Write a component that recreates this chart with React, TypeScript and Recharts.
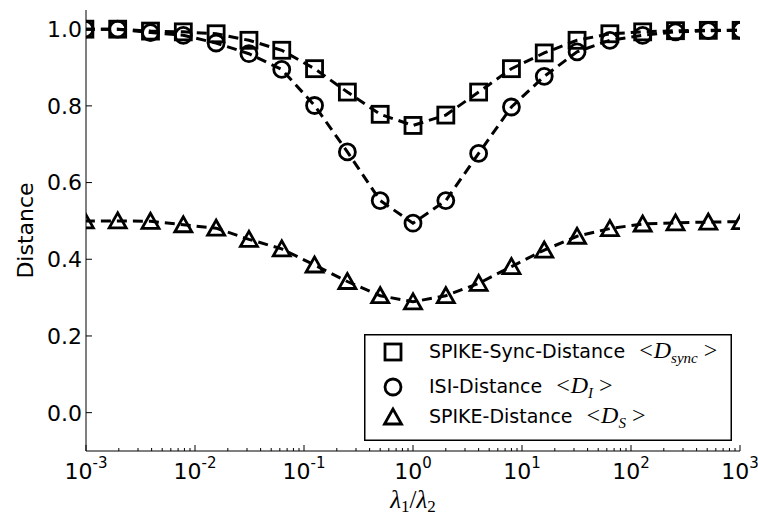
import React from "react";
import { LineChart, Line, XAxis, YAxis, Legend } from "recharts";

// lambda1 / lambda2 ratios (powers of two)
const ratios = [
  0.0009765625, 0.001953125, 0.00390625, 0.0078125, 0.015625, 0.03125, 0.0625,
  0.125, 0.25, 0.5, 1, 2, 4, 8, 16, 32, 64, 128, 256, 512, 1024,
];
const syncDistance = [
  1.0, 1.0, 0.995, 0.993, 0.988, 0.971, 0.945, 0.897, 0.836, 0.778, 0.749,
  0.776, 0.836, 0.897, 0.938, 0.971, 0.988, 0.993, 0.996, 0.997, 0.997,
];
const isiDistance = [
  1.0, 1.0, 0.991, 0.984, 0.964, 0.936, 0.895, 0.801, 0.68, 0.553, 0.494,
  0.553, 0.676, 0.797, 0.877, 0.941, 0.971, 0.984, 0.993, 0.996, 0.997,
];
const spikeDistance = [
  0.5, 0.5, 0.499, 0.49, 0.481, 0.452, 0.427, 0.385, 0.342, 0.305, 0.289,
  0.305, 0.337, 0.381, 0.424, 0.46, 0.48, 0.492, 0.495, 0.497, 0.498,
];

const majorX = [0.001, 0.01, 0.1, 1, 10, 100, 1000];
const majorExp = ["-3", "-2", "-1", "0", "1", "2", "3"];
const minorMantissa = [2, 3, 4, 5, 6, 7, 8, 9];
const yTicks = [0, 0.2, 0.4, 0.6, 0.8, 1.0];

const legendNames = ["SPIKE-Sync-Distance", "ISI-Distance", "SPIKE-Distance"];
const legendSubs = ["sync", "I", "S"];

const xTicks = [
  ...majorX,
  ...majorX.slice(0, -1).flatMap((d) => minorMantissa.map((m) => m * d)),
];

const data = ratios.map((r, i) => ({
  x: r,
  sync: syncDistance[i],
  isi: isiDistance[i],
  spike: spikeDistance[i],
}));

const FONT = "DejaVu Sans";
const MATH = "Liberation Serif";
const MARK_W = 2.8;

const Square = ({ cx, cy }: any) => (
  <rect x={cx - 8} y={cy - 8} width={16} height={16} fill="none" stroke="#000" strokeWidth={MARK_W} />
);
const Circle = ({ cx, cy }: any) => (
  <circle cx={cx} cy={cy} r={8} fill="none" stroke="#000" strokeWidth={MARK_W} />
);
const Triangle = ({ cx, cy }: any) => (
  <path
    d={`M${cx},${cy - 8} L${cx - 8.5},${cy + 7} L${cx + 8.5},${cy + 7} Z`}
    fill="none"
    stroke="#000"
    strokeWidth={MARK_W}
  />
);

const markers = [Square, Circle, Triangle];

const dotOf = (M: any) => (p: any) => <M key={`d-${p.index}`} cx={p.cx} cy={p.cy} />;

const BottomTick = ({ x, y, payload }: any) => {
  const i = majorX.indexOf(payload.value);
  const len = i >= 0 ? 6 : 3;
  return (
    <g>
      <line x1={x} x2={x} y1={y} y2={y - len} stroke="#000" />
      {i >= 0 && (
        <text x={x} y={y + 28} textAnchor="middle" fontSize={22} fontFamily={FONT} fill="#000">
          10
          <tspan dy={-11} fontSize={15}>
            {majorExp[i]}
          </tspan>
        </text>
      )}
    </g>
  );
};

const TopTick = ({ x, y, payload }: any) => {
  const len = majorX.indexOf(payload.value) >= 0 ? 6 : 3;
  return <line x1={x} x2={x} y1={y} y2={y + len} stroke="#000" />;
};

const LeftTick = ({ x, y, payload }: any) => (
  <g>
    <line x1={x} x2={x + 6} y1={y} y2={y} stroke="#000" />
    <text x={x - 4} y={y} dy="0.36em" textAnchor="end" fontSize={22} fontFamily={FONT} fill="#000">
      {payload.value.toFixed(1)}
    </text>
  </g>
);

const RightTick = ({ x, y }: any) => <line x1={x} x2={x - 6} y1={y} y2={y} stroke="#000" />;

const YLabel = ({ viewBox }: any) => {
  const cx = viewBox.x + 33;
  const cy = viewBox.y + viewBox.height / 2;
  return (
    <text x={cx} y={cy} transform={`rotate(-90 ${cx} ${cy})`} textAnchor="middle" fontSize={22} fontFamily={FONT} fill="#000">
      Distance
    </text>
  );
};

const XLabel = ({ viewBox }: any) => {
  const cx = viewBox.x + viewBox.width / 2;
  const cy = viewBox.y + 57;
  return (
    <text x={cx} y={cy} textAnchor="middle" fontSize={25} fontFamily={MATH} fontStyle="italic" fill="#000">
      λ
      <tspan dy={4} fontSize={17} fontStyle="normal">1</tspan>
      <tspan dy={-4} fontStyle="normal">/</tspan>
      <tspan>λ</tspan>
      <tspan dy={4} fontSize={17} fontStyle="normal">2</tspan>
    </text>
  );
};

const rowY = [18, 53, 83];
const rowBase = [24, 58.5, 89];

const LegendBox = () => (
  <svg width={368} height={107}>
    <rect x={0.75} y={0.75} width={366.5} height={105.5} fill="#fff" stroke="#000" strokeWidth={1.5} />
    {legendNames.map((name, i) => {
      const M = markers[i];
      return (
        <g key={name}>
          <M cx={29} cy={rowY[i]} />
          <text x={65} y={rowBase[i]} fontSize={19} fontFamily={FONT} fill="#000">
            {name}
            <tspan dx={14} fontFamily={MATH} fontSize={24}>&lt;</tspan>
            <tspan dx={1} fontFamily={MATH} fontSize={24} fontStyle="italic">D</tspan>
            <tspan dy={5} fontFamily={MATH} fontSize={15} fontStyle="italic">
              {legendSubs[i]}
            </tspan>
            <tspan dy={-5} dx={6} fontFamily={MATH} fontSize={24}>&gt;</tspan>
          </text>
        </g>
      );
    })}
  </svg>
);

const lineStyle = { stroke: "#000", strokeWidth: 3, strokeDasharray: "10 6" };

export default function App() {
  return (
    <div style={{ position: "absolute", left: 0, top: 0, background: "#fff" }}>
      <LineChart width={758} height={519} data={data} margin={{ top: 10, right: 18, bottom: 0, left: 0 }}>
        <XAxis
          xAxisId="b"
          dataKey="x"
          type="number"
          scale="log"
          domain={[0.001, 1000]}
          allowDataOverflow
          ticks={xTicks}
          interval={0}
          tick={<BottomTick />}
          tickLine={false}
          tickSize={0}
          tickMargin={0}
          height={68}
          stroke="#000"
          label={<XLabel />}
        />
        <XAxis
          xAxisId="t"
          orientation="top"
          dataKey="x"
          type="number"
          scale="log"
          domain={[0.001, 1000]}
          allowDataOverflow
          ticks={xTicks}
          interval={0}
          tick={<TopTick />}
          tickLine={false}
          tickSize={0}
          tickMargin={0}
          height={0}
          stroke="#000"
        />
        <YAxis
          yAxisId="l"
          type="number"
          domain={[-0.1, 1.05]}
          allowDataOverflow
          ticks={yTicks}
          interval={0}
          tick={<LeftTick />}
          tickLine={false}
          tickSize={0}
          tickMargin={0}
          width={86}
          stroke="#000"
          label={<YLabel />}
        />
        <YAxis
          yAxisId="r"
          orientation="right"
          type="number"
          domain={[-0.1, 1.05]}
          allowDataOverflow
          ticks={yTicks}
          interval={0}
          tick={<RightTick />}
          tickLine={false}
          tickSize={0}
          tickMargin={0}
          width={0}
          stroke="#000"
        />
        <Line xAxisId="b" yAxisId="l" dataKey="sync" name="SPIKE-Sync-Distance" {...lineStyle} dot={dotOf(Square)} isAnimationActive={false} />
        <Line xAxisId="b" yAxisId="l" dataKey="isi" name="ISI-Distance" {...lineStyle} dot={dotOf(Circle)} isAnimationActive={false} />
        <Line xAxisId="b" yAxisId="l" dataKey="spike" name="SPIKE-Distance" {...lineStyle} dot={dotOf(Triangle)} isAnimationActive={false} />
        <Legend
          layout="horizontal"
          verticalAlign="middle"
          align="center"
          wrapperStyle={{ left: 364, top: 334, width: 368, height: 107 }}
          content={() => <LegendBox />}
        />
      </LineChart>
    </div>
  );
}
